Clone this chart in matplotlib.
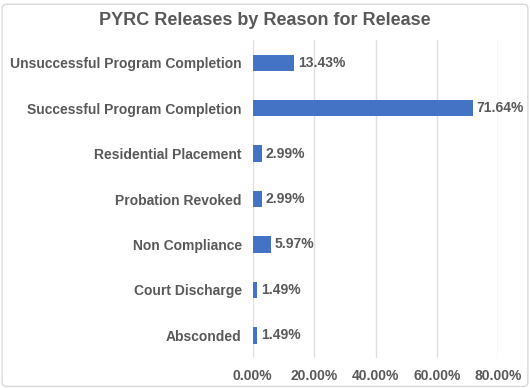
import matplotlib
matplotlib.use('Agg')
import matplotlib.pyplot as plt
from matplotlib.patches import FancyBboxPatch
from matplotlib.ticker import FuncFormatter

reasons = ['Unsuccessful Program Completion', 'Successful Program Completion',
           'Residential Placement', 'Probation Revoked', 'Non Compliance',
           'Court Discharge', 'Absconded']
shares = [13.43, 71.64, 2.99, 2.99, 5.97, 1.49, 1.49]
x_ticks = [0, 20, 40, 60, 80]

text_color = '#595959'
bar_color = '#4472C4'
plt.rcParams['font.family'] = ['Liberation Sans', 'DejaVu Sans']

fig = plt.figure(figsize=(5.3, 3.88), dpi=100)
ax = fig.add_axes([0.477, 0.077, 0.463, 0.82])

# outer chart frame
fig.patches.append(FancyBboxPatch((0.004, 0.004), 0.992, 0.985,
                                  boxstyle='round,pad=0,rounding_size=0.01',
                                  transform=fig.transFigure, fill=False,
                                  edgecolor='#d9d9d9', linewidth=1))

pos = list(range(len(reasons)))
ax.barh(pos, shares, height=0.36, color=bar_color, zorder=3)
for p, v in zip(pos, shares):
    ax.text(v + 1.2, p, f'{v:.2f}%', va='center', ha='left',
            fontsize=10, fontweight='bold', color=text_color)

ax.set_ylim(len(reasons) - 0.5, -0.5)
ax.set_yticks(pos)
ax.set_yticklabels(reasons, fontsize=10, fontweight='bold', color=text_color)
ax.set_xlim(0, 80)
ax.set_xticks(x_ticks)
ax.xaxis.set_major_formatter(FuncFormatter(lambda v, _: f'{v:.2f}%'))
for lbl in ax.get_xticklabels():
    lbl.set_fontsize(10)
    lbl.set_fontweight('bold')
    lbl.set_color(text_color)

ax.tick_params(axis='both', length=0, pad=8)
ax.grid(axis='x', color='#e0e0e0', linewidth=1, zorder=0)
for s in ax.spines.values():
    s.set_visible(False)

fig.text(0.5, 0.948, 'PYRC Releases by Reason for Release', ha='center', va='center',
         fontsize=13, fontweight='bold', color=text_color)

fig.savefig('out.png', dpi=100)
